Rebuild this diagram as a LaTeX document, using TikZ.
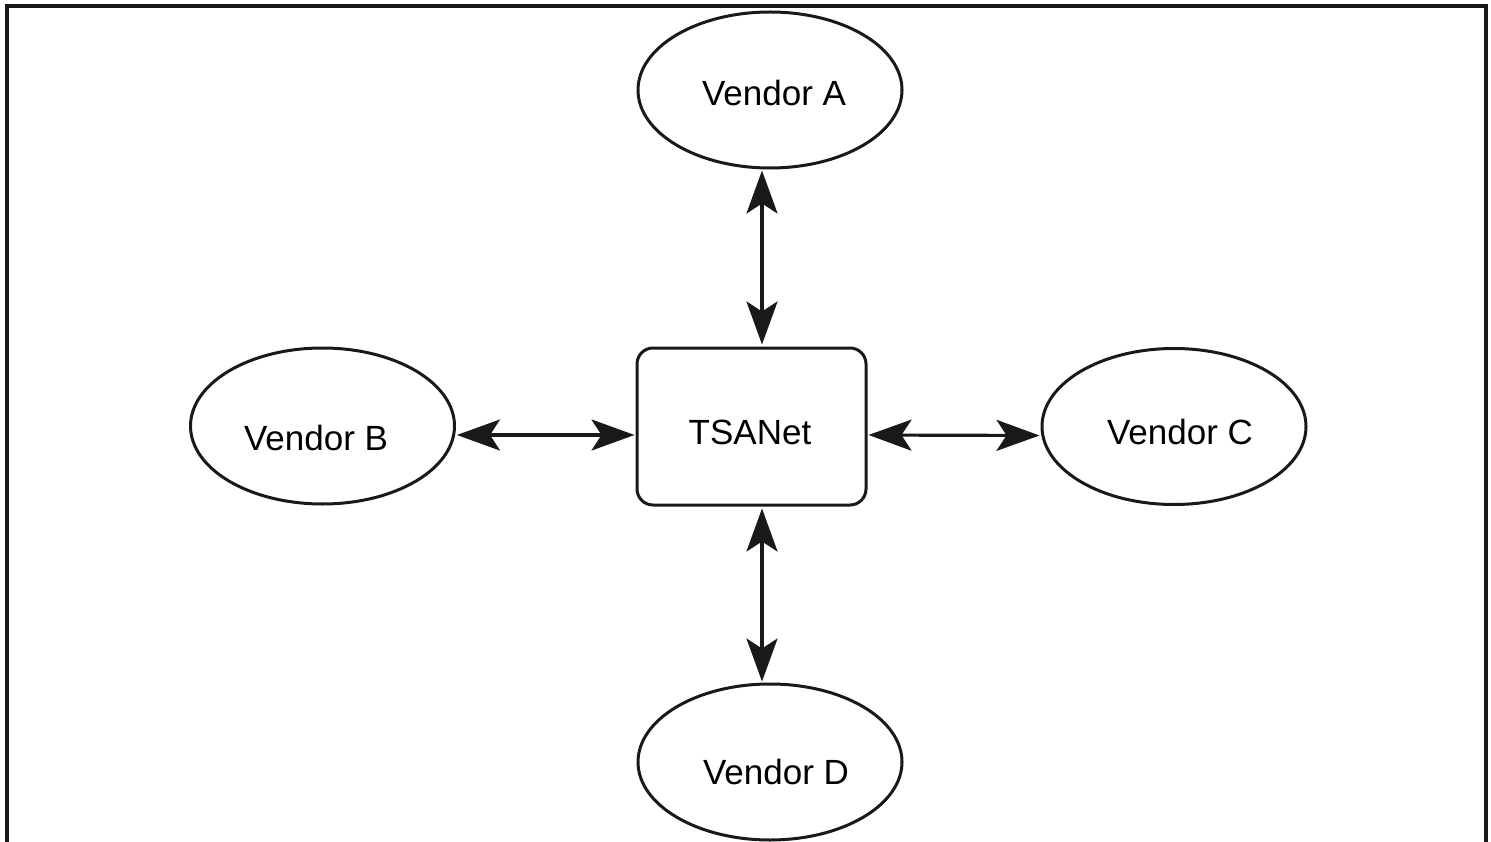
\documentclass[tikz,border=0pt]{standalone}
\usepackage{fontspec}
\setmainfont{Liberation Sans}
\usetikzlibrary{shapes.geometric,arrows.meta}
\begin{document}
\begin{tikzpicture}[x=1pt,y=-1pt,
  line width=3pt,
  vendor/.style={draw=black!90, ellipse, minimum width=264pt, minimum height=156pt, inner sep=0pt},
  hub/.style={draw=black!90, rounded corners=16pt, minimum width=229pt, minimum height=157pt, inner sep=0pt},
  lbl/.style={font=\fontsize{35}{40}\selectfont, inner sep=0pt, anchor=center},
  link/.style={draw=black!90, line width=3.2pt, {Stealth[length=43pt,width=31pt,inset=10pt]}-{Stealth[length=43pt,width=31pt,inset=10pt]}}
]
\useasboundingbox (0,0) rectangle (1491,842);
\draw[line width=3.2pt, black!90] (7,842) -- (7,6) -- (1486,6) -- (1486,842);

\node[hub] (T) at (751.5,426.5) {};
\node[lbl] (Tt) at (750,432) {TSANet};

\node[vendor] (A) at (770,90) {};
\node[lbl] (At) at (774,93) {Vendor A};
\node[vendor] (B) at (322.5,426) {};
\node[lbl] (Bt) at (316,438) {Vendor B};
\node[vendor] (C) at (1174,426.5) {};
\node[lbl] (Ct) at (1180,432) {Vendor C};
\node[vendor] (D) at (770,762) {};
\node[lbl] (Dt) at (776,772) {Vendor D};

\path[link] ([xshift=-8pt,yshift=-1pt]A.south) -- ([xshift=10.5pt,yshift=2pt]T.north);
\path[link] ([xshift=10.5pt,yshift=-2pt]T.south) -- ([xshift=-8pt,yshift=1pt]D.north);
\path[link] ([xshift=1pt,yshift=-9pt]B.east) -- ([xshift=-1pt,yshift=-8.5pt]T.west);
\path[link] ([xshift=1pt,yshift=-8.5pt]T.east) -- ([xshift=-1pt,yshift=-9pt]C.west);
\end{tikzpicture}
\end{document}
